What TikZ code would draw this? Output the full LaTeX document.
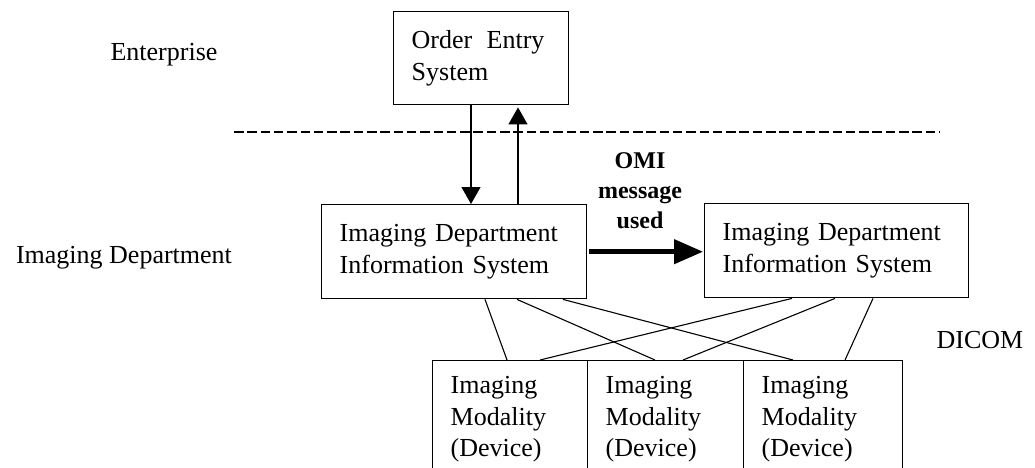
\documentclass[tikz,border=0pt]{standalone}
\usepackage{fontspec}
\setmainfont{Liberation Serif}
\usetikzlibrary{arrows.meta,calc}
\tikzset{
	box/.style={draw, line width=1.4pt, anchor=north west, inner xsep=18pt, inner ysep=0pt, align=left, font=\fontsize{26}{31.5}\selectfont},
	lbl/.style={anchor=base, inner sep=0pt, font=\fontsize{26}{31.5}\selectfont},
	flow/.style={line width=1.3pt, -{Triangle[length=17pt,width=19pt]}},
	omi/.style={line width=4.5pt, -{Triangle[length=29pt,width=24pt]}},
	link/.style={line width=1.1pt},
	divide/.style={line width=1.8pt, dash pattern=on 9.5pt off 3.8pt}
}

\begin{document}
\begin{tikzpicture}[x=1pt,y=-1pt]
				\clip (0,0) rectangle (1035,468);
				\fill[white] (0,0) rectangle (1035,468);
				
				\node[lbl] (ent) at (164,61) {Enterprise};
				\node[lbl] (dept) at (124,263) {Imaging Department};
				\node[lbl] (dicom) at (980,348) {DICOM};
				
				\node[box, text width=139pt, minimum height=93pt] (oes) at (393,11) {Order\hspace{0.55em}Entry\\System};
				\draw[divide] (234,132) -- (940,132);
				
				\node[box, text width=229pt, minimum height=94pt] (idisA) at (321,204) {Imaging Department\\Information System};
				\node[box, text width=228pt, minimum height=94pt] (idisB) at (704,203) {Imaging Department\\Information System};
				
				\coordinate (dnx) at (471,0);
				\coordinate (upx) at (518,0);
				\draw[flow] (oes.south -| dnx) -- (idisA.north -| dnx);
				\draw[flow, shorten >=2pt] (idisA.north -| upx) -- (oes.south -| upx);
				
				\node[anchor=north, inner sep=0pt, align=center, font=\fontsize{24}{30}\selectfont\bfseries] (msg) at (640,152) {OMI\\message\\used};
				\draw[omi] ([xshift=2pt]idisA.east) -- ([xshift=-1pt]idisA.east -| idisB.west);
				
				\node[box, text width=119pt, minimum height=117pt] (mod1) at (432,360) {Imaging\\Modality\\(Device)};
				\node[box, text width=120pt, minimum height=117pt] (mod2) at (587,360) {Imaging\\Modality\\(Device)};
				\node[box, text width=123pt, minimum height=117pt] (mod3) at (743,360) {Imaging\\Modality\\(Device)};
				
				\foreach \s/\i/\t/\j in {idisA/164/mod1/75, idisA/196/mod2/68, idisA/242/mod3/50, idisB/88/mod1/108, idisB/131/mod2/96, idisB/169/mod3/102}
					\draw[link] ([xshift=\i pt]\s.south west) -- ([xshift=\j pt]\t.north west);
\end{tikzpicture}
\end{document}
